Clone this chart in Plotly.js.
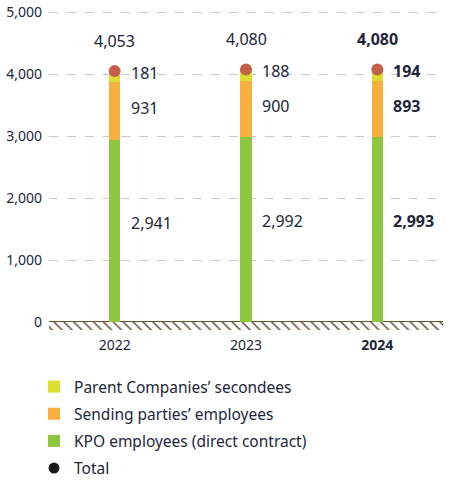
<!DOCTYPE html>
<html><head><meta charset="utf-8">
<script src="https://cdn.plot.ly/plotly-3.0.1.min.js"></script>
<style>html,body{margin:0;padding:0;background:#fff;}#chart{width:456px;height:493px;}</style>
</head><body><div id="chart"></div>
<script>
var years = ["2022", "2023", "2024"];
var yearLabels = ["2022", "2023", "<b>2024</b>"];
var kpo = [2941, 2992, 2993];
var sending = [931, 900, 893];
var parent = [181, 188, 194];
var totals = [4053, 4080, 4080];
var boldYear = [false, false, true];
var yTicks = [0, 1000, 2000, 3000, 4000, 5000];
var groundDepth = [-130];

var fontFam = "'Noto Sans', 'Open Sans', sans-serif";
var txtColor = "#22263a";
var cGreen = "#8dc63f", cOrange = "#f7af3f", cYellow = "#dede32", cDot = "#c4604a";

function fmt(v){ return String(v).replace(/\B(?=(\d{3})+(?!\d))/g, ','); }
function lab(v, b){ return b ? '<b>'+fmt(v)+'</b>' : fmt(v); }

var traces = [
  {type:'bar', x:years, y:kpo, name:'KPO employees (direct contract)', marker:{color:cGreen}, width:0.085, legendrank:3, legendgroup:'g3', hoverinfo:'skip'},
  {type:'bar', x:years, y:sending, name:"Sending parties’ employees", marker:{color:cOrange}, width:0.085, legendrank:2, legendgroup:'g2', hoverinfo:'skip'},
  {type:'bar', x:years, y:parent, name:"Parent Companies’ secondees", marker:{color:cYellow}, width:0.085, legendrank:1, legendgroup:'g1', hoverinfo:'skip'},
  {type:'scatter', mode:'markers', x:years, y:totals, marker:{color:cDot, size:12}, showlegend:false, hoverinfo:'skip'},
  {type:'scatter', mode:'markers', x:[null], y:[null], name:'Total', marker:{color:'#1a1a1a', size:11}, legendrank:4, legendgroup:'g4'},
  {type:'bar', x:[0.5], y:groundDepth, base:0, width:1, xaxis:'x2', showlegend:false, hoverinfo:'skip',
   marker:{color:'#ffffff', line:{width:0}, pattern:{shape:'\\', fgcolor:'#5e3f24', bgcolor:'#ffffff', size:7, solidity:0.2}}}
];

var annotations = [];
for (var i=0;i<years.length;i++){
  var b = boldYear[i];
  var f = {family:fontFam, size:16, color:txtColor};
  annotations.push({xref:'x', yref:'y', x:i, y:kpo[i]/2, text:lab(kpo[i],b), showarrow:false, xanchor:'left', xshift:14, yshift:8, font:f});
  annotations.push({xref:'x', yref:'y', x:i, y:kpo[i]+sending[i]/2, text:lab(sending[i],b), showarrow:false, xanchor:'left', xshift:14, yshift:3, font:f});
  annotations.push({xref:'x', yref:'y', x:i, y:kpo[i]+sending[i]+parent[i]/2, text:lab(parent[i],b), showarrow:false, xanchor:'left', xshift:14, yshift:4, font:f});
  annotations.push({xref:'x', yref:'y', x:i, y:totals[i], text:lab(totals[i],b), showarrow:false, xanchor:'center', yshift:30, font:f});
}

var layout = {
  width:456, height:493,
  margin:{l:49, r:13, t:9.5, b:161, autoexpand:false},
  paper_bgcolor:'#fff', plot_bgcolor:'#fff',
  barmode:'stack',
  bargap:0,
  font:{family:fontFam, color:txtColor},
  xaxis:{type:'category', range:[-0.5,2.5], tickvals:years, ticktext:yearLabels, showgrid:false, zeroline:false, showline:false,
         ticks:'', tickfont:{size:14, color:txtColor}, ticklabelstandoff:3, fixedrange:true, automargin:false},
  xaxis2:{overlaying:'x', range:[0,1], visible:false, fixedrange:true},
  yaxis:{range:[-160,5040], tickvals:yTicks, ticktext:yTicks.map(fmt),
         showgrid:true, gridcolor:'#c9c9c9', griddash:'dash', gridwidth:1, zeroline:true, zerolinecolor:'#6e4b2c', zerolinewidth:2,
         showline:false, ticks:'', tickfont:{size:14, color:txtColor}, ticklabelstandoff:6, fixedrange:true, automargin:false},
  showlegend:true,
  legend:{x:-0.038, xanchor:'left', y:-0.118, yanchor:'top', font:{size:15.5, color:txtColor}, traceorder:'grouped', itemwidth:30, tracegroupgap:4},
  annotations:annotations
};

Plotly.newPlot('chart', traces, layout, {displayModeBar:false, staticPlot:true});
</script></body></html>
